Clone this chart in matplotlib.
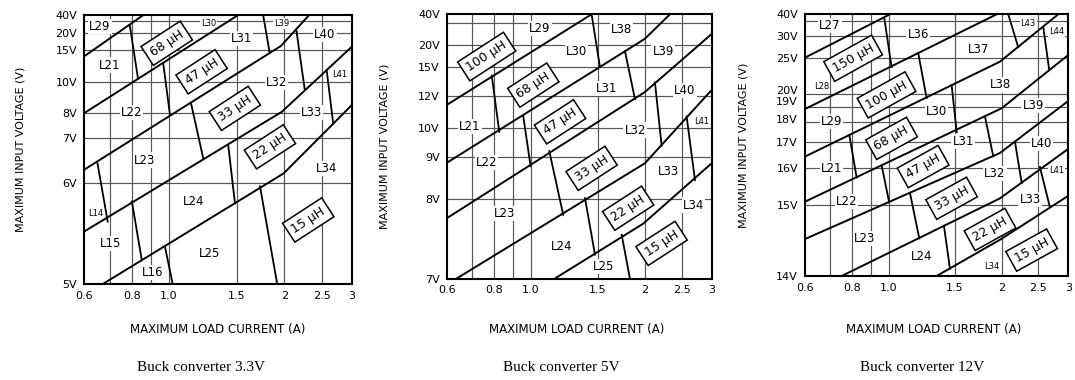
import numpy as np
import matplotlib
matplotlib.use("Agg")
from matplotlib import pyplot as plt
from matplotlib.ticker import NullLocator
from matplotlib.transforms import ScaledTranslation

# x axis, shared by all three charts (log current scale)
amp_ticks = [0.6, 0.8, 1.0, 1.5, 2, 2.5, 3]
amp_tick_labels = ["0.6", "0.8", "1.0", "1.5", "2", "2.5", "3"]
amp_grid = [0.7, 0.8, 0.9, 1.0, 1.5, 2.0, 2.5]

# 1 - Buck converter 3.3V
v33_volts = [5, 6, 7, 8, 10, 15, 20, 30, 40]
v33_tick_labels = ["5V", "6V", "7V", "8V", "10V", "15V", "20V", "", "40V"]
v33_axis_pos = [0, 0.3743, 0.5416, 0.6346, 0.7498, 0.8699, 0.9342, 0.9777, 1.0]
v33_grid = [6, 7, 8, 10, 15, 20, 30]
v33_curves = [
    ([0.6, 0.857], [14.0, 40]),
    ([0.6, 1.515], [8.0, 40]),
    ([0.6, 1.96, 2.32], [6.3, 16.2, 40]),
    ([0.6, 1.97, 3.0], [5.52, 8.1, 16.0]),
    ([0.672, 1.99, 3.0], [5.0, 6.22, 8.54]),
]
v33_splits = [
    ([0.79, 0.83], [26.5, 10.6]),
    ([0.966, 1.006], [12.9, 7.93]),
    ([1.76, 1.83], [40, 14.6]),
    ([0.651, 0.692], [6.44, 5.62]),
    ([1.141, 1.228], [8.65, 6.56]),
    ([2.15, 2.26], [21.5, 9.5]),
    ([0.80, 0.849], [5.82, 5.24]),
    ([1.427, 1.486], [6.85, 5.8]),
    ([2.577, 2.68], [11.9, 7.6]),
    ([0.976, 1.022], [5.37, 5.0]),
    ([1.727, 1.915], [5.97, 5.0]),
]
v33_names = ["L29", "L30", "L39", "L40", "L31", "L21", "L22", "L32", "L41",
             "L33", "L23", "L34", "L24", "L14", "L15", "L25", "L16"]
v33_small = ["L30", "L39", "L41", "L14"]
v33_name_xy = [(0.060, 0.957), (0.464, 0.969), (0.738, 0.967), (0.899, 0.926),
               (0.588, 0.913), (0.097, 0.814), (0.178, 0.638), (0.719, 0.750),
               (0.955, 0.777), (0.850, 0.638), (0.228, 0.461), (0.906, 0.430),
               (0.408, 0.306), (0.044, 0.263), (0.101, 0.149), (0.470, 0.114),
               (0.255, 0.042)]
v33_boxes = ["68 µH", "47 µH", "33 µH", "22 µH", "15 µH"]
v33_box_xy = [(0.309, 0.895), (0.439, 0.789), (0.563, 0.653), (0.694, 0.510), (0.837, 0.238)]

# 2 - Buck converter 5V
v5_volts = [7, 8, 9, 10, 12, 15, 20, 30, 40]
v5_tick_labels = ["7V", "8V", "9V", "10V", "12V", "15V", "20V", "", "40V"]
v5_axis_pos = [0, 0.3009, 0.4599, 0.5715, 0.6908, 0.8005, 0.8838, 0.9659, 1.0]
v5_grid = [8, 9, 10, 12, 15, 20, 30]
v5_curves = [
    ([0.6, 1.447], [11.43, 40]),
    ([0.6, 2.0, 2.329], [8.86, 22.86, 40]),
    ([0.6, 2.0, 3.0], [7.757, 12.41, 25.07]),
    ([0.6375, 2.0, 3.0], [7.0, 8.85, 12.62]),
    ([1.158, 1.98, 3.0], [7.0, 7.69, 8.85]),
]
v5_splits = [
    ([1.447, 1.522], [40, 15.0]),
    ([0.789, 0.826], [14.1, 9.85]),
    ([0.955, 0.999], [10.75, 8.78]),
    ([1.772, 1.883], [18.6, 11.8]),
    ([1.119, 1.218], [9.2, 7.8]),
    ([2.126, 2.214], [13.4, 9.38]),
    ([1.39, 1.477], [8.02, 7.3]),
    ([2.577, 2.711], [10.7, 8.45]),
    ([1.737, 1.826], [7.55, 7.0]),
]
v5_names = ["L29", "L38", "L30", "L39", "L31", "L40", "L21", "L32", "L41",
            "L22", "L33", "L23", "L34", "L24", "L25"]
v5_small = ["L41"]
v5_name_xy = [(0.352, 0.947), (0.660, 0.941), (0.491, 0.858), (0.817, 0.858),
              (0.604, 0.720), (0.899, 0.713), (0.088, 0.575), (0.711, 0.562),
              (0.962, 0.593), (0.151, 0.438), (0.836, 0.404), (0.220, 0.247),
              (0.931, 0.278), (0.434, 0.120), (0.591, 0.045)]
v5_boxes = ["100 µH", "68 µH", "47 µH", "33 µH", "22 µH", "15 µH"]
v5_box_xy = [(0.151, 0.840), (0.327, 0.732), (0.428, 0.593), (0.547, 0.417),
             (0.685, 0.266), (0.811, 0.133)]

# 3 - Buck converter 12V
v12_volts = [14, 15, 16, 17, 18, 19, 20, 25, 30, 35, 40]
v12_tick_labels = ["14V", "15V", "16V", "17V", "18V", "19V", "20V", "25V", "30V", "", "40V"]
v12_axis_pos = [0, 0.2713, 0.4115, 0.5132, 0.5866, 0.6450, 0.6955, 0.8342, 0.9171, 0.9744, 1.0]
v12_grid = [15, 16, 17, 18, 19, 20, 25, 30, 35]
v12_curves = [
    ([0.6, 1.009], [25, 40]),
    ([0.6, 1.937], [18.88, 40]),
    ([0.6, 1.976, 2.822], [16.44, 24.45, 40]),
    ([0.6, 1.997, 3.0], [15.09, 18.93, 25.62]),
    ([0.6, 1.976, 3.0], [14.52, 16.575, 19.47]),
    ([0.751, 1.976, 3.0], [14, 15.18, 16.73]),
    ([1.342, 1.976, 3.0], [14, 14.51, 15.25]),
]
v12_splits = [
    ([0.974, 1.019], [37.5, 23.7]),
    ([1.199, 1.262], [26.1, 19.7]),
    ([2.079, 2.21], [40, 27.4]),
    ([0.787, 0.823], [17.34, 15.75]),
    ([1.471, 1.517], [21.2, 17.5]),
    ([2.575, 2.671], [33.0, 23.3]),
    ([0.959, 1.004], [16.11, 15.07]),
    ([1.803, 1.897], [18.4, 16.45]),
    ([1.14, 1.207], [15.33, 14.53]),
    ([2.166, 2.257], [17.0, 15.6]),
    ([1.403, 1.456], [14.71, 14.1]),
    ([2.523, 2.682], [16.05, 14.97]),
]
v12_names = ["L27", "L36", "L37", "L43", "L44", "L28", "L38", "L29", "L30", "L39",
             "L31", "L40", "L21", "L22", "L32", "L41", "L33", "L23", "L24", "L34"]
v12_small = ["L43", "L44", "L28", "L41", "L34"]
v12_name_xy = [(0.095, 0.956), (0.430, 0.921), (0.658, 0.864), (0.848, 0.966),
               (0.956, 0.934), (0.063, 0.723), (0.741, 0.730), (0.101, 0.592),
               (0.500, 0.628), (0.867, 0.653), (0.601, 0.513), (0.899, 0.507),
               (0.101, 0.412), (0.158, 0.284), (0.722, 0.392), (0.956, 0.405),
               (0.855, 0.293), (0.228, 0.144), (0.443, 0.074), (0.709, 0.038)]
v12_boxes = ["150 µH", "100 µH", "68 µH", "47 µH", "33 µH", "22 µH", "15 µH"]
v12_box_xy = [(0.183, 0.832), (0.310, 0.692), (0.329, 0.526), (0.449, 0.418),
              (0.557, 0.297), (0.703, 0.178), (0.861, 0.099)]
v12_label_shift = {"20V": 4, "19V": 6, "18V": 3}   # crowded labels sit a bit higher

captions = ["Buck converter 3.3V", "Buck converter 5V", "Buck converter 12V"]

GRID = "#555555"


def draw_panel(ax, volts, axis_pos, tick_labels, vgrid, curves, splits,
               names, small, name_xy, boxes, box_xy, angle, shift=None):
    fwd = lambda v: np.interp(v, volts, axis_pos)
    inv = lambda p: np.interp(p, axis_pos, volts)
    ax.set_xscale("log")
    ax.set_yscale("function", functions=(fwd, inv))
    ax.set_xlim(0.6, 3)
    ax.set_ylim(volts[0], volts[-1])
    ax.set_xticks(amp_ticks, amp_tick_labels)
    ax.set_yticks(volts, tick_labels)
    ax.xaxis.set_minor_locator(NullLocator())
    ax.yaxis.set_minor_locator(NullLocator())
    ax.tick_params(length=0, labelsize=8)
    ax.tick_params(axis="x", pad=5)
    ax.tick_params(axis="y", pad=5)
    for s in ax.spines.values():
        s.set_linewidth(1.5)

    for a in amp_grid:
        ax.axvline(a, color=GRID, lw=0.85, zorder=1)
    for v in vgrid:
        ax.axhline(v, color=GRID, lw=0.85, zorder=1)

    for xs, ys in curves:
        ax.plot(xs, ys, color="black", lw=1.4, zorder=3)
    for xs, ys in splits:
        ax.plot(xs, ys, color="black", lw=1.3, zorder=3)

    for n, (fx, fy) in zip(names, name_xy):
        ax.text(fx, fy, n, transform=ax.transAxes, ha="center", va="center",
                fontsize=6 if n in small else 8.5, zorder=2,
                bbox=dict(fc="white", ec="none", pad=0.8))

    for b, (fx, fy) in zip(boxes, box_xy):
        ax.text(fx, fy, b, transform=ax.transAxes, ha="center", va="center",
                rotation=angle, rotation_mode="anchor", fontsize=9, zorder=4,
                bbox=dict(boxstyle="square,pad=0.38", fc="white", ec="black", lw=1.1))

    if shift:
        for lab in ax.get_yticklabels():
            dy = shift.get(lab.get_text())
            if dy:
                lab.set_transform(lab.get_transform() +
                                  ScaledTranslation(0, dy / 100, ax.figure.dpi_scale_trans))

    ax.text(-0.235, 0.5, "MAXIMUM INPUT VOLTAGE (V)", transform=ax.transAxes,
            rotation=90, ha="center", va="center", fontsize=8)


fig = plt.figure(figsize=(10.75, 3.8), dpi=100)
ax1 = fig.add_axes([0.0781, 0.2526, 0.2493, 0.7079])
ax2 = fig.add_axes([0.4155, 0.2671, 0.2465, 0.6953])
ax3 = fig.add_axes([0.7488, 0.2737, 0.2449, 0.6887])

draw_panel(ax1, v33_volts, v33_axis_pos, v33_tick_labels, v33_grid, v33_curves, v33_splits,
           v33_names, v33_small, v33_name_xy, v33_boxes, v33_box_xy, 33)
draw_panel(ax2, v5_volts, v5_axis_pos, v5_tick_labels, v5_grid, v5_curves, v5_splits,
           v5_names, v5_small, v5_name_xy, v5_boxes, v5_box_xy, 33)
draw_panel(ax3, v12_volts, v12_axis_pos, v12_tick_labels, v12_grid, v12_curves, v12_splits,
           v12_names, v12_small, v12_name_xy, v12_boxes, v12_box_xy, 29, v12_label_shift)

for xc in [0.2028, 0.5367, 0.8688]:
    fig.text(xc, 0.134, "MAXIMUM LOAD CURRENT (A)", ha="center", va="center", fontsize=8.5)
for xc, cap in zip([0.187, 0.522, 0.858], captions):
    fig.text(xc, 0.034, cap, ha="center", va="center", fontsize=11, family="Liberation Serif")

fig.savefig("out.png", dpi=100)
